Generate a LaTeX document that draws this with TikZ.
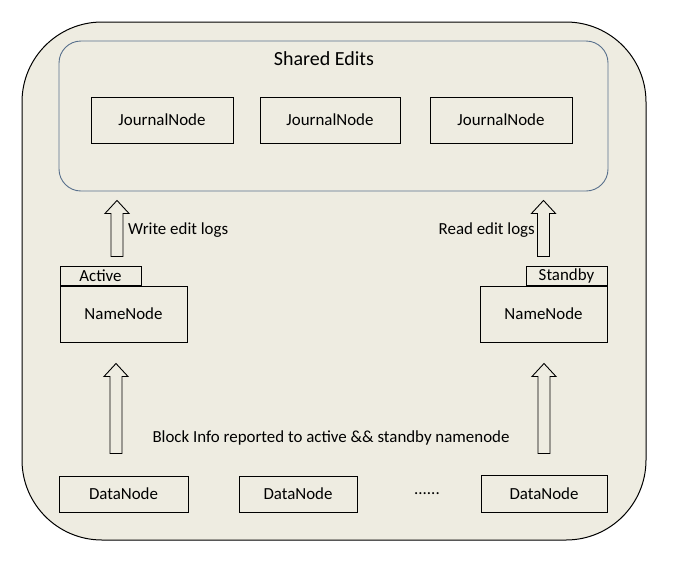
\documentclass[tikz,border=0pt]{standalone}
\usepackage{fontspec}
\setmainfont{Carlito}
\usetikzlibrary{calc, positioning}

\definecolor{paper}{RGB}{238,236,225}
\definecolor{edgeblue}{RGB}{88,112,140}

\tikzset{
  box/.style={draw, line width=1pt, inner sep=0pt},
  tab/.style={draw, line width=1pt, inner sep=0pt, minimum width=81, minimum height=19},
  fatarrow/.style={draw, line width=0.9pt, fill=paper,
    to path={let \p1=(\tikztostart), \p2=(\tikztotarget) in
      (\x1-6pt,\y1) -- (\x1-6pt,\y2-13pt) -- (\x1-12pt,\y2-13pt) -- (\x1,\y2)
      -- (\x1+12pt,\y2-13pt) -- (\x1+6pt,\y2-13pt) -- (\x1+6pt,\y1) -- cycle}}
}

\begin{document}
\begin{tikzpicture}[x=1pt, y=-1pt, font=\fontsize{16.9}{20}\selectfont]
                \useasboundingbox (0,0) rectangle (674,563);
                \fill[white] (0,0) rectangle (674,563);

                % Cluster
                \draw[line width=1pt, fill=paper, rounded corners=80] (22,22) rectangle (646,540);

                % Shared edits
                \node[draw=edgeblue, line width=0.9pt, rounded corners=22, minimum width=549, minimum height=150] (shared) at (333.5,116) {};
                \node (title) at (324,59) {\fontsize{20}{24}\selectfont Shared Edits};
                \node[box, minimum width=142, minimum height=46] (jn1) at (162,120) {JournalNode};
                \node[box, minimum width=140, minimum height=46] (jn2) at (330,120) {JournalNode};
                \node[box, minimum width=142, minimum height=46] (jn3) at (501,120) {JournalNode};

                % Name nodes
                \node[box, minimum width=127, minimum height=56] (nnA) at (123.5,314) {NameNode};
                \node[tab, anchor=south west] (tabA) at (nnA.north west) {Active};
                \node[box, minimum width=127, minimum height=56] (nnS) at (543.5,314) {NameNode};
                \node[tab, anchor=south east] (tabS) at (nnS.north east) {Standby};

                % Data nodes
                \node[box, minimum width=129, minimum height=36] (dn1) at (123.5,494) {DataNode};
                \node[box, minimum width=118, minimum height=36] (dn2) at (298,494) {DataNode};
                \node[box, minimum width=126, minimum height=37] (dn3) at (544,493.5) {DataNode};
                \node (dots) at (427,494) {......};

                % Edit logs
                \draw[fatarrow] ($(nnA.north)+(-6.5,-29)$) to ($(nnA.north |- shared.south)+(-6.5,9)$);
                \draw[fatarrow] ($(nnS.north)+(0,-29)$) to ($(nnS.north |- shared.south)+(0,9)$);
                \node[inner sep=0pt, anchor=west] (wlog) at (128,230) {Write edit logs};
                \node[inner sep=0pt, anchor=east] (rlog) at (535,230) {Read edit logs};

                % Block reports
                \draw[fatarrow] ($(dn1.north)+(-7.5,-22)$) to ($(nnA.south)+(-7.5,21)$);
                \draw[fatarrow] ($(dn3.north)+(0,-21)$) to ($(nnS.south)+(0,21)$);
                \node (report) at (331,438) {Block Info reported to active \&\& standby namenode};
            \end{tikzpicture}
\end{document}
